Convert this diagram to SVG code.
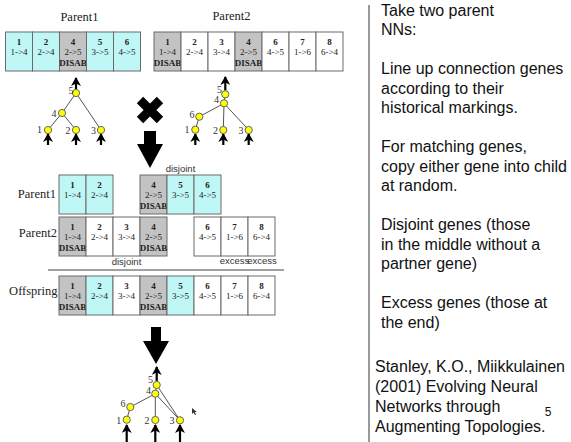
<svg xmlns="http://www.w3.org/2000/svg" width="571" height="442" viewBox="0 0 571 442">
<defs>
<style>
.c{fill:#bff7f7;stroke:#6a6a6a;stroke-width:1}
.g{fill:#c3c3c3;stroke:#6a6a6a;stroke-width:1}
.w{fill:#fff;stroke:#6a6a6a;stroke-width:1}
.n{font-family:"Liberation Serif",serif;font-weight:bold;font-size:9px;text-anchor:middle;fill:#222}
.t{font-family:"Liberation Serif",serif;font-size:9px;text-anchor:middle;fill:#222}
.lab{font-family:"Liberation Serif",serif;font-size:12.5px;fill:#222}
.nl{font-family:"Liberation Serif",serif;font-size:10px;fill:#333;text-anchor:middle}
.sm{font-family:"Liberation Sans",Arial,sans-serif;font-size:9.5px;fill:#333;text-anchor:middle}
.rt{font-family:"Liberation Sans",Arial,sans-serif;font-size:16px;fill:#111}
.neu{fill:#ffff00;stroke:#666;stroke-width:1}
.e{stroke:#555;stroke-width:1;fill:none}
.ar{stroke:#000;stroke-width:2.2;fill:none;marker-end:url(#ah)}
</style>
<marker id="ah" markerUnits="userSpaceOnUse" markerWidth="10" markerHeight="10" refX="8" refY="5" orient="auto">
<path d="M0,0 L9,5 L0,10 L2.5,5 z" fill="#000"/>
</marker>
</defs>
<rect width="571" height="442" fill="#fff"/>

<!-- labels -->
<text class="lab" x="79.5" y="20.5" text-anchor="middle">Parent1</text>
<text class="lab" x="231.5" y="19.5" text-anchor="middle">Parent2</text>
<text class="lab" x="56" y="198" text-anchor="end">Parent1</text>
<text class="lab" x="57" y="237" text-anchor="end">Parent2</text>
<text class="lab" x="57.5" y="295" text-anchor="end">Offspring</text>

<!-- top parent1 genome -->
<g id="tp1-1"><rect class="c" x="5.5" y="32" width="27" height="39"/><text class="n" x="19" y="44.5">1</text><text class="t" x="19" y="55">1-&gt;4</text></g>
<g id="tp1-2"><rect class="c" x="32.5" y="32" width="27" height="39"/><text class="n" x="46" y="44.5">2</text><text class="t" x="46" y="55">2-&gt;4</text></g>
<g id="tp1-4"><rect class="g" x="59.5" y="32" width="27" height="39"/><text class="n" x="73" y="44.5">4</text><text class="t" x="73" y="55">2-&gt;5</text><text class="n" x="73" y="65.5">DISAB</text></g>
<g id="tp1-5"><rect class="c" x="86.5" y="32" width="27" height="39"/><text class="n" x="100" y="44.5">5</text><text class="t" x="100" y="55">3-&gt;5</text></g>
<g id="tp1-6"><rect class="c" x="113.5" y="32" width="27" height="39"/><text class="n" x="127" y="44.5">6</text><text class="t" x="127" y="55">4-&gt;5</text></g>

<!-- top parent2 genome -->
<g id="tp2-1"><rect class="g" x="154" y="32" width="27" height="39"/><text class="n" x="167.5" y="44.5">1</text><text class="t" x="167.5" y="55">1-&gt;4</text><text class="n" x="167.5" y="65.5">DISAB</text></g>
<g id="tp2-2"><rect class="w" x="181" y="32" width="27" height="39"/><text class="n" x="194.5" y="44.5">2</text><text class="t" x="194.5" y="55">2-&gt;4</text></g>
<g id="tp2-3"><rect class="w" x="208" y="32" width="27" height="39"/><text class="n" x="221.5" y="44.5">3</text><text class="t" x="221.5" y="55">3-&gt;4</text></g>
<g id="tp2-4"><rect class="g" x="235" y="32" width="27" height="39"/><text class="n" x="248.5" y="44.5">4</text><text class="t" x="248.5" y="55">2-&gt;5</text><text class="n" x="248.5" y="65.5">DISAB</text></g>
<g id="tp2-6"><rect class="w" x="262" y="32" width="27" height="39"/><text class="n" x="275.5" y="44.5">6</text><text class="t" x="275.5" y="55">4-&gt;5</text></g>
<g id="tp2-7"><rect class="w" x="289" y="32" width="27" height="39"/><text class="n" x="302.5" y="44.5">7</text><text class="t" x="302.5" y="55">1-&gt;6</text></g>
<g id="tp2-8"><rect class="w" x="316" y="32" width="27" height="39"/><text class="n" x="329.5" y="44.5">8</text><text class="t" x="329.5" y="55">6-&gt;4</text></g>

<!-- connectors of networks -->
<g id="connectors">
<line class="e" x1="76" y1="93" x2="62" y2="113"/>
<line class="e" x1="62" y1="113" x2="48" y2="130"/>
<line class="e" x1="62" y1="113" x2="76" y2="130"/>
<line class="e" x1="76" y1="93" x2="101" y2="130"/>
<line class="e" x1="225.3" y1="94.3" x2="224" y2="103.3"/>
<line class="e" x1="224" y1="103.3" x2="199.3" y2="116.7"/>
<line class="e" x1="199.3" y1="116.7" x2="195.3" y2="129.7"/>
<line class="e" x1="224" y1="103.3" x2="223.3" y2="130"/>
<line class="e" x1="224" y1="103.3" x2="248.7" y2="130"/>
<line class="e" x1="156.7" y1="385" x2="155.3" y2="393.7"/>
<line class="e" x1="155.3" y1="393.7" x2="130.3" y2="407"/>
<line class="e" x1="130.3" y1="407" x2="126.7" y2="419.7"/>
<line class="e" x1="155.3" y1="393.7" x2="155.3" y2="420"/>
<line class="e" x1="155.3" y1="393.7" x2="180" y2="420.3"/>
<line class="e" x1="156.7" y1="385" x2="180" y2="420.3"/>
<!-- io arrows -->
<line class="ar" x1="76" y1="89" x2="76" y2="78"/>
<line class="ar" x1="48" y1="145" x2="48" y2="134"/>
<line class="ar" x1="76" y1="145" x2="76" y2="134"/>
<line class="ar" x1="101" y1="145" x2="101" y2="134"/>
<line class="ar" x1="225.3" y1="90.5" x2="225.3" y2="77"/>
<line class="ar" x1="195.3" y1="145" x2="195.3" y2="134"/>
<line class="ar" x1="223.3" y1="145" x2="223.3" y2="134"/>
<line class="ar" x1="248.7" y1="145" x2="248.7" y2="134"/>
<line class="ar" x1="156.7" y1="381" x2="156.7" y2="367"/>
<line class="ar" x1="126.7" y1="442" x2="126.7" y2="425"/>
<line class="ar" x1="155.3" y1="442" x2="155.3" y2="425"/>
<line class="ar" x1="180" y1="442" x2="180" y2="425"/>
</g>

<!-- parent1 network -->
<g id="p1n5"><circle class="neu" cx="76" cy="93" r="3.6"/><text class="nl" x="71" y="93.5">5</text></g>
<g id="p1n4"><circle class="neu" cx="62" cy="113" r="3.6"/><text class="nl" x="54" y="116.5">4</text></g>
<g id="p1n1"><circle class="neu" cx="48" cy="130" r="3.6"/><text class="nl" x="39.5" y="133">1</text></g>
<g id="p1n2"><circle class="neu" cx="76" cy="130" r="3.6"/><text class="nl" x="68" y="134">2</text></g>
<g id="p1n3"><circle class="neu" cx="101" cy="130" r="3.6"/><text class="nl" x="93.5" y="133.5">3</text></g>

<!-- parent2 network -->
<g id="p2n5"><circle class="neu" cx="225.3" cy="94.3" r="3.6"/><text class="nl" x="219.5" y="92.5">5</text></g>
<g id="p2n4"><circle class="neu" cx="224" cy="103.3" r="3.6"/><text class="nl" x="216.5" y="103">4</text></g>
<g id="p2n6"><circle class="neu" cx="199.3" cy="116.7" r="3.6"/><text class="nl" x="192" y="117.5">6</text></g>
<g id="p2n1"><circle class="neu" cx="195.3" cy="129.7" r="3.6"/><text class="nl" x="187" y="133">1</text></g>
<g id="p2n2"><circle class="neu" cx="223.3" cy="130" r="3.6"/><text class="nl" x="215.5" y="133.5">2</text></g>
<g id="p2n3"><circle class="neu" cx="248.7" cy="130" r="3.6"/><text class="nl" x="241" y="133.5">3</text></g>

<!-- cross and big arrows -->
<g id="cross"><path d="M140,100 L160,120 M160,100 L140,120" stroke="#000" stroke-width="9"/></g>
<g id="arrow1"><polygon points="144,131 156,131 156,144 163,144 150,168 137,144 144,144" fill="#000"/></g>
<g id="arrow2"><polygon points="151,327 161,327 161,341 169,341 156,364 143,341 151,341" fill="#000"/></g>

<!-- aligned parent1 -->
<g id="mp1-1"><rect class="c" x="59" y="175" width="27" height="39"/><text class="n" x="72.5" y="187.5">1</text><text class="t" x="72.5" y="198">1-&gt;4</text></g>
<g id="mp1-2"><rect class="c" x="86" y="175" width="27" height="39"/><text class="n" x="99.5" y="187.5">2</text><text class="t" x="99.5" y="198">2-&gt;4</text></g>
<g id="mp1-4"><rect class="g" x="140" y="175" width="27" height="39"/><text class="n" x="153.5" y="187.5">4</text><text class="t" x="153.5" y="198">2-&gt;5</text><text class="n" x="153.5" y="208.5">DISAB</text></g>
<g id="mp1-5"><rect class="c" x="167" y="175" width="27" height="39"/><text class="n" x="180.5" y="187.5">5</text><text class="t" x="180.5" y="198">3-&gt;5</text></g>
<g id="mp1-6"><rect class="c" x="194" y="175" width="27" height="39"/><text class="n" x="207.5" y="187.5">6</text><text class="t" x="207.5" y="198">4-&gt;5</text></g>
<text class="sm" x="180.5" y="171.5">disjoint</text>

<!-- aligned parent2 -->
<g id="mp2-1"><rect class="g" x="59" y="217" width="27" height="39"/><text class="n" x="72.5" y="229.5">1</text><text class="t" x="72.5" y="240">1-&gt;4</text><text class="n" x="72.5" y="250.5">DISAB</text></g>
<g id="mp2-2"><rect class="w" x="86" y="217" width="27" height="39"/><text class="n" x="99.5" y="229.5">2</text><text class="t" x="99.5" y="240">2-&gt;4</text></g>
<g id="mp2-3"><rect class="w" x="113" y="217" width="27" height="39"/><text class="n" x="126.5" y="229.5">3</text><text class="t" x="126.5" y="240">3-&gt;4</text></g>
<g id="mp2-4"><rect class="g" x="140" y="217" width="27" height="39"/><text class="n" x="153.5" y="229.5">4</text><text class="t" x="153.5" y="240">2-&gt;5</text><text class="n" x="153.5" y="250.5">DISAB</text></g>
<g id="mp2-6"><rect class="w" x="194" y="217" width="27" height="39"/><text class="n" x="207.5" y="229.5">6</text><text class="t" x="207.5" y="240">4-&gt;5</text></g>
<g id="mp2-7"><rect class="w" x="221" y="217" width="27" height="39"/><text class="n" x="234.5" y="229.5">7</text><text class="t" x="234.5" y="240">1-&gt;6</text></g>
<g id="mp2-8"><rect class="w" x="248" y="217" width="27" height="39"/><text class="n" x="261.5" y="229.5">8</text><text class="t" x="261.5" y="240">6-&gt;4</text></g>
<text class="sm" x="126.5" y="265">disjoint</text>
<text class="sm" x="234.5" y="264" font-size="9px">excess</text>
<text class="sm" x="262" y="264" font-size="9px">excess</text>

<line x1="48" y1="270" x2="284" y2="270" stroke="#444" stroke-width="1"/>

<!-- offspring -->
<g id="of-1"><rect class="g" x="59" y="276" width="27" height="39"/><text class="n" x="72.5" y="288.5">1</text><text class="t" x="72.5" y="299">1-&gt;4</text><text class="n" x="72.5" y="309.5">DISAB</text></g>
<g id="of-2"><rect class="c" x="86" y="276" width="27" height="39"/><text class="n" x="99.5" y="288.5">2</text><text class="t" x="99.5" y="299">2-&gt;4</text></g>
<g id="of-3"><rect class="w" x="113" y="276" width="27" height="39"/><text class="n" x="126.5" y="288.5">3</text><text class="t" x="126.5" y="299">3-&gt;4</text></g>
<g id="of-4"><rect class="g" x="140" y="276" width="27" height="39"/><text class="n" x="153.5" y="288.5">4</text><text class="t" x="153.5" y="299">2-&gt;5</text><text class="n" x="153.5" y="309.5">DISAB</text></g>
<g id="of-5"><rect class="c" x="167" y="276" width="27" height="39"/><text class="n" x="180.5" y="288.5">5</text><text class="t" x="180.5" y="299">3-&gt;5</text></g>
<g id="of-6"><rect class="w" x="194" y="276" width="27" height="39"/><text class="n" x="207.5" y="288.5">6</text><text class="t" x="207.5" y="299">4-&gt;5</text></g>
<g id="of-7"><rect class="w" x="221" y="276" width="27" height="39"/><text class="n" x="234.5" y="288.5">7</text><text class="t" x="234.5" y="299">1-&gt;6</text></g>
<g id="of-8"><rect class="w" x="248" y="276" width="27" height="39"/><text class="n" x="261.5" y="288.5">8</text><text class="t" x="261.5" y="299">6-&gt;4</text></g>

<!-- offspring network -->
<g id="ofn5"><circle class="neu" cx="156.7" cy="385" r="3.6"/><text class="nl" x="150.5" y="383">5</text></g>
<g id="ofn4"><circle class="neu" cx="155.3" cy="393.7" r="3.6"/><text class="nl" x="148.5" y="394">4</text></g>
<g id="ofn6"><circle class="neu" cx="130.3" cy="407" r="3.6"/><text class="nl" x="123" y="406.5">6</text></g>
<g id="ofn1"><circle class="neu" cx="126.7" cy="419.7" r="3.6"/><text class="nl" x="118.7" y="423.5">1</text></g>
<g id="ofn2"><circle class="neu" cx="155.3" cy="420" r="3.6"/><text class="nl" x="147" y="423.5">2</text></g>
<g id="ofn3"><circle class="neu" cx="180" cy="420.3" r="3.6"/><text class="nl" x="172" y="423.5">3</text></g>

<!-- cursor -->
<polygon points="192,408 192,414 193.5,412.5 195,415 196,414.5 194.8,412 196.8,412" fill="#333"/>

<!-- right panel -->
<line x1="369" y1="5" x2="369" y2="442" stroke="#555" stroke-width="1.2"/>
<g id="notes">
<text class="rt" x="381" y="15.5">Take two parent</text>
<text class="rt" x="381" y="35">NNs:</text>
<text class="rt" x="381" y="74">Line up connection genes</text>
<text class="rt" x="381" y="93.5">according to their</text>
<text class="rt" x="381" y="113">historical markings.</text>
<text class="rt" x="381" y="152">For matching genes,</text>
<text class="rt" x="381" y="171.5">copy either gene into child</text>
<text class="rt" x="381" y="191">at random.</text>
<text class="rt" x="381" y="230">Disjoint genes (those</text>
<text class="rt" x="381" y="249.5">in the middle without a</text>
<text class="rt" x="381" y="269">partner gene)</text>
<text class="rt" x="381" y="308">Excess genes (those at</text>
<text class="rt" x="381" y="327.5">the end)</text>
<text class="rt" x="375" y="372">Stanley, K.O., Miikkulainen</text>
<text class="rt" x="375" y="392">(2001) Evolving Neural</text>
<text class="rt" x="375" y="412">Networks through</text>
<text class="rt" x="375" y="432">Augmenting Topologies.</text>
<text x="548" y="416" font-family="Liberation Sans, Arial, sans-serif" font-size="12" fill="#111" text-anchor="middle">5</text>
</g>
</svg>
